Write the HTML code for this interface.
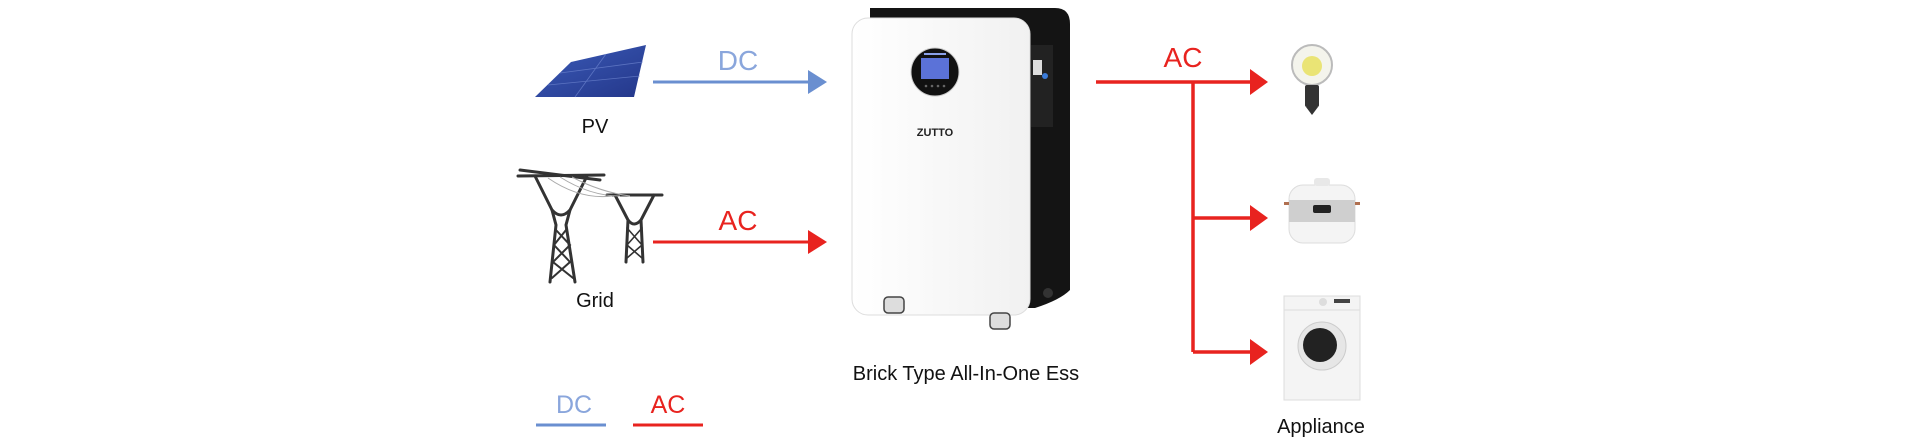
<!DOCTYPE html>
<html><head><meta charset="utf-8"><style>
html,body{margin:0;padding:0;background:#fff;}
svg{display:block;}
text{font-family:"Liberation Sans",Arial,sans-serif;}
</style></head><body>
<svg width="1920" height="444" viewBox="0 0 1920 444" xmlns="http://www.w3.org/2000/svg">
<defs>
<linearGradient id="pv" x1="0" y1="0" x2="1" y2="1"><stop offset="0" stop-color="#3b5bb8"/><stop offset="1" stop-color="#24378a"/></linearGradient>
<linearGradient id="wf" x1="0" y1="0" x2="1" y2="0"><stop offset="0" stop-color="#ffffff"/><stop offset="1" stop-color="#f1f1f1"/></linearGradient>
</defs>
<polygon points="535,97 571,62 646,45 634,97" fill="url(#pv)"/>
<g stroke="#6f86d0" stroke-width="0.8" opacity="0.7">
<line x1="548" y1="85" x2="640" y2="76"/><line x1="560" y1="73" x2="643" y2="62"/>
<line x1="606" y1="54" x2="575" y2="97"/>
</g>
<text x="595" y="133" font-size="20" text-anchor="middle" fill="#111">PV</text>
<line x1="653" y1="82" x2="812" y2="82" stroke="#6a8fd0" stroke-width="3"/>
<polygon points="808,70 827,82 808,94" fill="#6a8fd0"/>
<text x="738" y="70" font-size="28" text-anchor="middle" fill="#8aa6dc">DC</text>
<g stroke="#333" fill="none" stroke-width="3" stroke-linecap="round">
<line x1="518" y1="176" x2="604" y2="175"/>
<line x1="520" y1="170" x2="600" y2="180"/>
<path d="M535,176 L552,210 L556,225 L550,282 M587,176 L570,210 L566,225 L575,282"/>
<path d="M552,210 Q561,220 570,210"/>
<path d="M556,230 L570,245 L553,262 L573,278 M566,230 L554,245 L570,262 L552,278" stroke-width="2"/>
<line x1="607" y1="195" x2="662" y2="195"/>
<path d="M615,195 L628,220 L626,262 M654,195 L641,220 L643,262"/>
<path d="M628,220 Q634,228 641,220"/>
<path d="M627,228 L642,245 L627,258 M642,228 L627,245 L642,258" stroke-width="1.6"/>
</g>
<g stroke="#aaa" fill="none" stroke-width="1">
<path d="M548,178 Q580,200 612,196"/><path d="M560,177 Q590,196 620,196"/><path d="M572,177 Q600,192 630,196"/>
</g>
<text x="595" y="307" font-size="20" text-anchor="middle" fill="#111">Grid</text>
<line x1="653" y1="242" x2="812" y2="242" stroke="#e8231f" stroke-width="3"/>
<polygon points="808,230 827,242 808,254" fill="#e8231f"/>
<text x="738" y="230" font-size="28" text-anchor="middle" fill="#e8231f">AC</text>
<!-- Device -->
<path d="M870,8 L1055,8 Q1070,8 1070,24 L1070,290 Q1060,300 1035,308 L870,308 Z" fill="#141414"/>
<rect x="852" y="18" width="178" height="297" rx="16" fill="url(#wf)" stroke="#ddd" stroke-width="1"/>
<rect x="1031" y="45" width="22" height="82" fill="#222"/>
<rect x="1033" y="60" width="9" height="15" fill="#ddd"/>
<circle cx="1045" cy="76" r="3" fill="#3b7bd8"/>
<circle cx="935" cy="72" r="24" fill="#111" stroke="#ccc" stroke-width="1"/>
<rect x="921" y="58" width="28" height="21" fill="#5b72d8"/>
<rect x="924" y="53" width="22" height="2" fill="#8aa0e8"/>
<g fill="#666"><circle cx="926" cy="86" r="1.3"/><circle cx="932" cy="86" r="1.3"/><circle cx="938" cy="86" r="1.3"/><circle cx="944" cy="86" r="1.3"/></g>
<text x="935" y="136" font-size="11" font-weight="bold" text-anchor="middle" fill="#222">ZUTTO</text>
<g fill="#ddd" stroke="#444" stroke-width="1.5">
<rect x="884" y="297" width="20" height="16" rx="4"/><rect x="990" y="313" width="20" height="16" rx="4"/>
</g>
<circle cx="1048" cy="293" r="5" fill="#333"/>
<text x="966" y="380" font-size="20" text-anchor="middle" fill="#111">Brick Type All-In-One Ess</text>
<g stroke="#e8231f" stroke-width="3.5" fill="none">
<line x1="1096" y1="82" x2="1252" y2="82"/>
<line x1="1193" y1="82" x2="1193" y2="352"/>
<line x1="1193" y1="218" x2="1252" y2="218"/>
<line x1="1193" y1="352" x2="1252" y2="352"/>
</g>
<g fill="#e8231f">
<polygon points="1250,69 1268,82 1250,95"/>
<polygon points="1250,205 1268,218 1250,231"/>
<polygon points="1250,339 1268,352 1250,365"/>
</g>
<text x="1183" y="67" font-size="28" text-anchor="middle" fill="#e8231f">AC</text>
<circle cx="1312" cy="65" r="20" fill="#f4f4ec" stroke="#bbb" stroke-width="2"/>
<circle cx="1312" cy="66" r="10" fill="#e8e060" opacity="0.85"/>
<rect x="1305" y="85" width="14" height="22" rx="2" fill="#333"/>
<polygon points="1306,107 1318,107 1312,115" fill="#333"/>
<rect x="1289" y="185" width="66" height="58" rx="14" fill="#f4f4f4" stroke="#ddd"/>
<rect x="1289" y="200" width="66" height="22" fill="#cfcfcf"/>
<rect x="1313" y="205" width="18" height="8" rx="2" fill="#222"/>
<rect x="1314" y="178" width="16" height="8" rx="3" fill="#e8e8e8"/>
<rect x="1284" y="202" width="5" height="3" fill="#b07050"/><rect x="1355" y="202" width="5" height="3" fill="#b07050"/>
<rect x="1284" y="296" width="76" height="104" fill="#f4f4f4" stroke="#ddd"/>
<line x1="1284" y1="310" x2="1360" y2="310" stroke="#ddd"/>
<circle cx="1323" cy="302" r="4" fill="#ddd"/>
<rect x="1334" y="299" width="16" height="4" fill="#444"/>
<circle cx="1322" cy="346" r="24" fill="#e6e6e6" stroke="#ccc"/>
<circle cx="1320" cy="345" r="17" fill="#222"/>
<text x="1321" y="433" font-size="20" text-anchor="middle" fill="#111">Appliance</text>
<text x="574" y="413" font-size="25" text-anchor="middle" fill="#8aa6dc">DC</text>
<line x1="536" y1="425" x2="606" y2="425" stroke="#6a8fd0" stroke-width="3"/>
<text x="668" y="413" font-size="25" text-anchor="middle" fill="#e8231f">AC</text>
<line x1="633" y1="425" x2="703" y2="425" stroke="#e8231f" stroke-width="3"/>
</svg>
</body></html>
